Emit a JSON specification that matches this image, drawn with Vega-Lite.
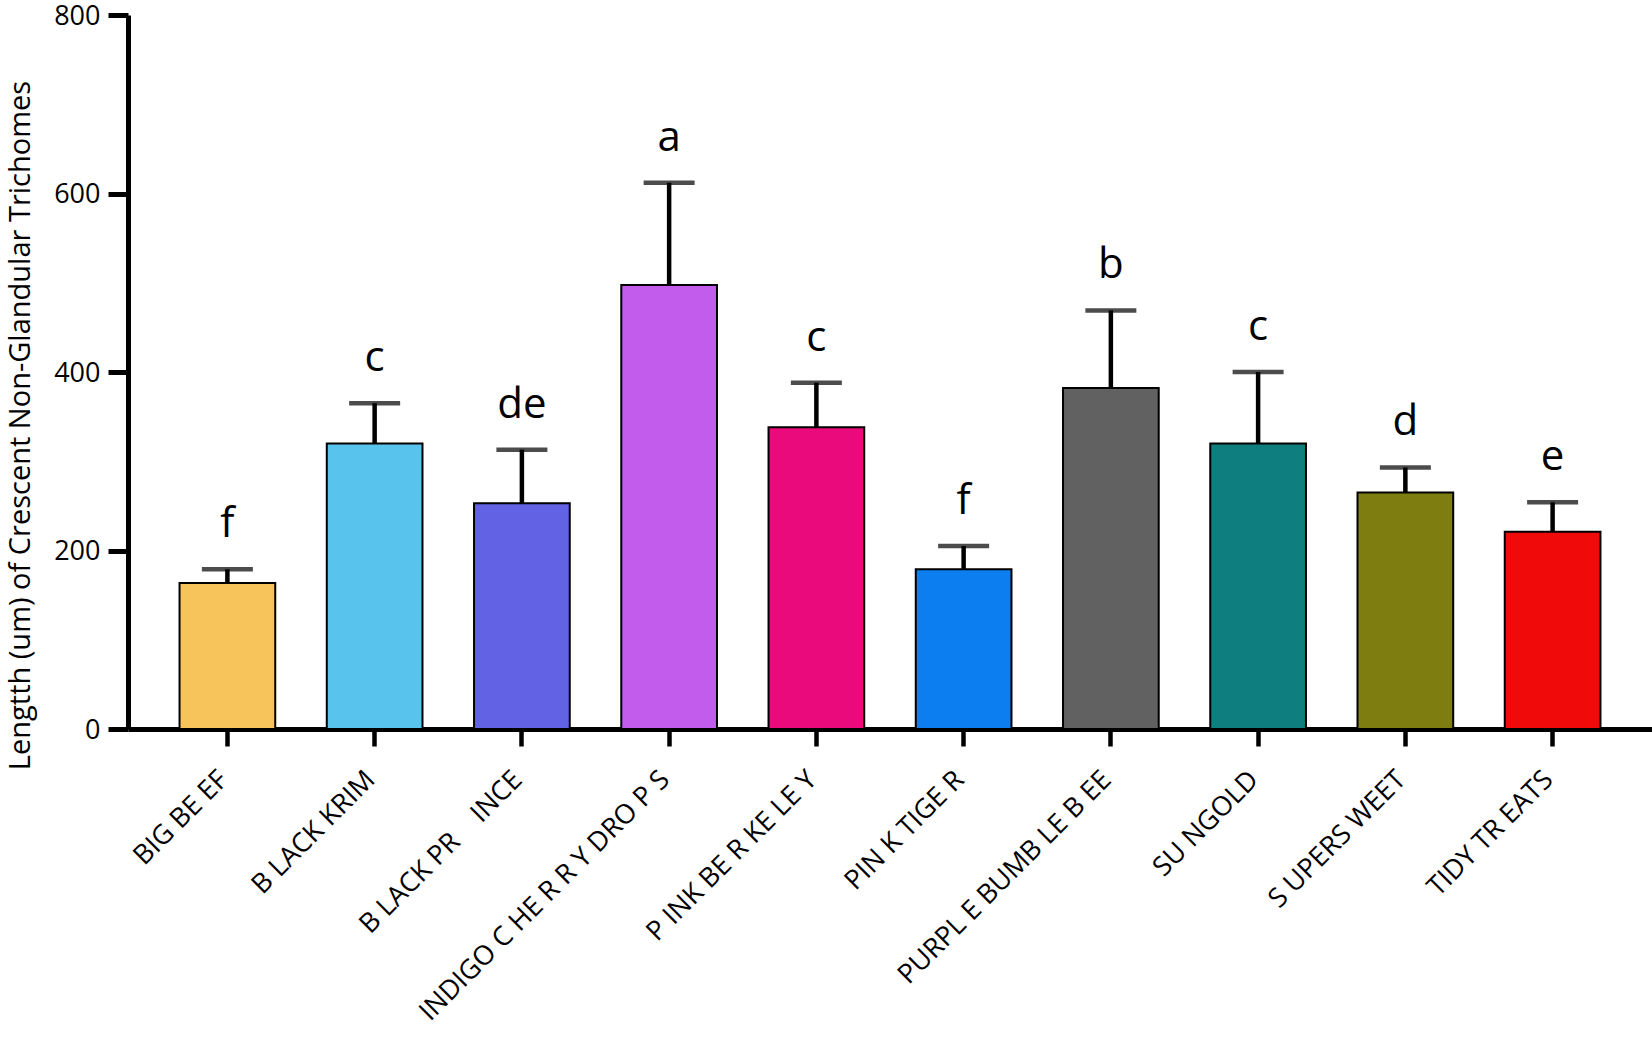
{
  "$schema": "https://vega.github.io/schema/vega-lite/v6.json",
  "width": 1524,
  "height": 714,
  "autosize": {"type": "none"},
  "padding": {"left": 128, "top": 15, "right": 0, "bottom": 308},
  "background": "white",
  "config": {"view": {"stroke": null}, "font": "Open Sans"},
  "data": {
    "values": [
      {"variety": "BIG BE EF", "mean": 163.5, "upper": 179, "group": "f", "color": "#F6C45B"},
      {"variety": "B LACK KRIM", "mean": 320, "upper": 365, "group": "c", "color": "#58C3EC"},
      {"variety": "B LACK PR\u00a0\u00a0\u00a0\u00a0INCE", "mean": 253, "upper": 313, "group": "de", "color": "#6262E4"},
      {"variety": "INDIGO C HE R R Y DRO P S", "mean": 497.5, "upper": 612, "group": "a", "color": "#C25CEC"},
      {"variety": "P INK BE R KE LE Y", "mean": 338, "upper": 388, "group": "c", "color": "#EA0A7C"},
      {"variety": "PIN K TIGE R", "mean": 179, "upper": 205, "group": "f", "color": "#0C7EF0"},
      {"variety": "PURPL E BUMB LE B EE", "mean": 382, "upper": 469, "group": "b", "color": "#616161"},
      {"variety": "SU NGOLD", "mean": 320, "upper": 400, "group": "c", "color": "#0E7E7E"},
      {"variety": "S UPERS WEET", "mean": 265, "upper": 293, "group": "d", "color": "#7E7E10"},
      {"variety": "TIDY TR EATS", "mean": 221, "upper": 254, "group": "e", "color": "#F00A0A"}
    ]
  },
  "encoding": {
    "x": {
      "field": "variety",
      "type": "nominal",
      "sort": null,
      "scale": {"paddingInner": 0.35, "paddingOuter": 0.35},
      "axis": {
        "title": null,
        "labelAngle": -45,
        "labelAlign": "right",
        "labelBaseline": "top",
        "labelFontSize": 27,
        "labelColor": "black",
        "labelPadding": 20,
        "labelOffset": -13,
        "labelLimit": 500,
        "domainColor": "black",
        "domainWidth": 5,
        "tickColor": "black",
        "tickWidth": 4.5,
        "tickSize": 17,
        "grid": false
      }
    }
  },
  "layer": [
    {
      "mark": {"type": "bar", "stroke": "black", "strokeWidth": 2},
      "encoding": {
        "y": {
          "field": "mean",
          "type": "quantitative",
          "scale": {"domain": [0, 800], "nice": false},
          "axis": {
            "title": "Lengtth (um) of Crescent Non-Glandular Trichomes",
            "titleFontSize": 29,
            "titleFontWeight": "normal",
            "titleColor": "black",
            "titleAngle": -90,
            "titleX": -108,
            "titleY": 410,
            "titleAlign": "center",
            "titleBaseline": "middle",
            "values": [0, 200, 400, 600, 800],
            "labelFontSize": 27,
            "labelColor": "black",
            "labelPadding": 8,
            "labelOffset": 1,
            "domainColor": "black",
            "domainWidth": 5,
            "tickColor": "black",
            "tickWidth": 5,
            "tickSize": 20,
            "grid": false
          }
        },
        "fill": {"field": "color", "type": "nominal", "scale": null}
      }
    },
    {
      "mark": {"type": "rule", "color": "black", "strokeWidth": 4.5},
      "encoding": {
        "y": {"field": "mean", "type": "quantitative"},
        "y2": {"field": "upper"}
      }
    },
    {
      "mark": {"type": "tick", "color": "black", "thickness": 4.5, "size": 51, "orient": "horizontal"},
      "encoding": {
        "y": {"field": "upper", "type": "quantitative"}
      }
    },
    {
      "mark": {"type": "text", "fontSize": 42, "dy": -45, "baseline": "middle", "align": "center", "color": "black"},
      "encoding": {
        "y": {"field": "upper", "type": "quantitative"},
        "text": {"field": "group"}
      }
    }
  ]
}
